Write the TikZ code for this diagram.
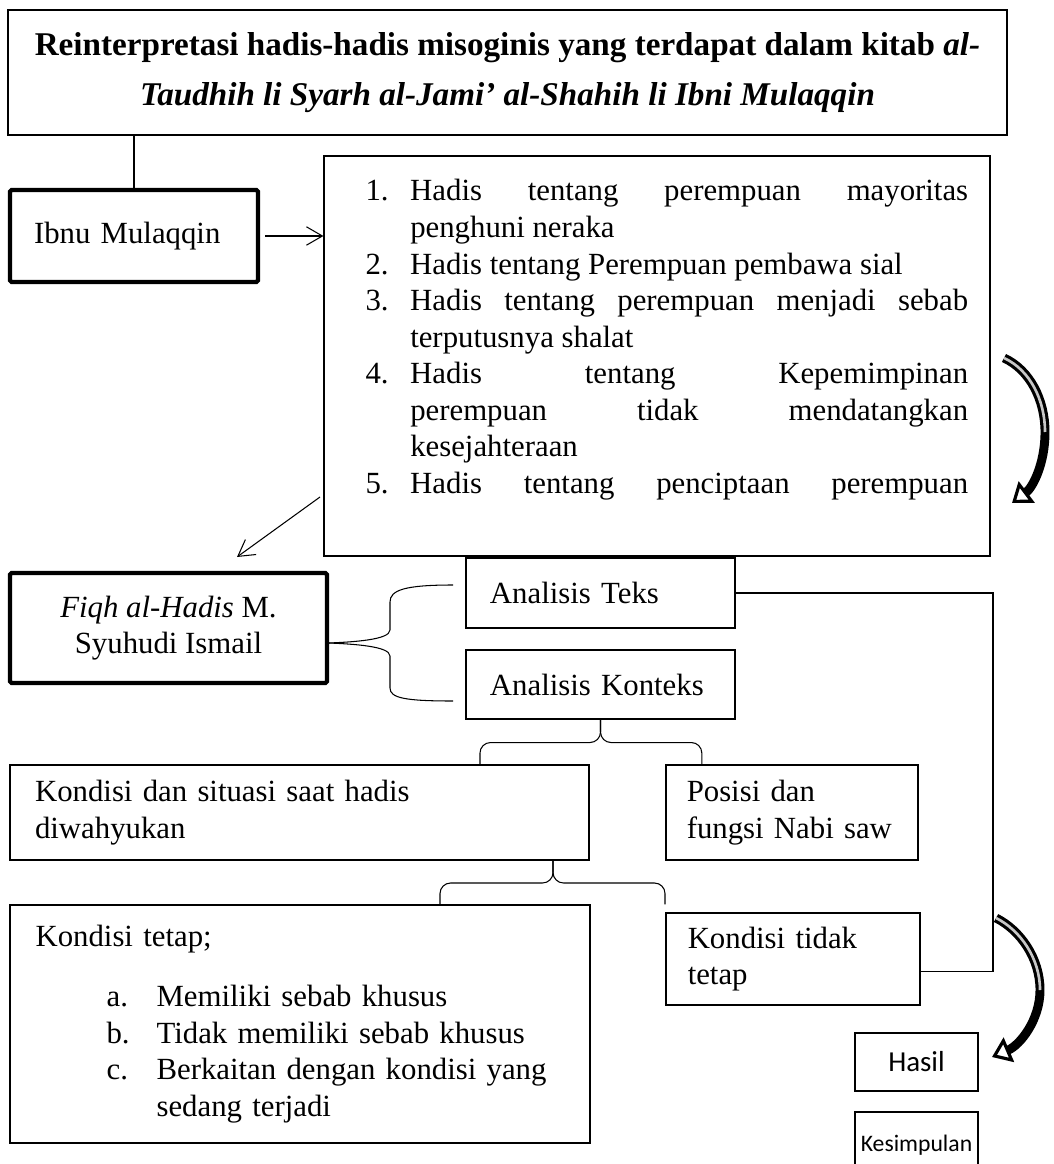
\documentclass[tikz,border=0pt]{standalone}
\usepackage{fontspec}
\setmainfont{Liberation Serif}
\newfontfamily\hasilfont{Carlito}
\usetikzlibrary{arrows.meta}
\hyphenpenalty=10000
\exhyphenpenalty=10000
\newcommand{\numlbl}[1]{\makebox[17pt][l]{#1}}
\newcommand{\fullrow}[1]{\makebox[212pt][s]{#1}}
\newcommand{\letteritem}[1]{\hspace*{27pt}\makebox[19pt][l]{#1}}

\begin{document}
\begin{tikzpicture}[x=0.38pt,y=-0.38pt,
  >={Straight Barb[angle=60:7pt]},
  box/.style={rectangle,draw,line width=0.5pt,inner sep=0pt,align=left,
              font=\fontsize{11.7}{13.9}\selectfont},
  heavy/.style={box,line width=1.6pt,rounded corners=0.6pt},
  bigarc/.style={line width=3.4pt,-{Triangle[open,length=7pt,width=10pt,line width=1.2pt]}},
  shade/.style={line width=1pt,draw=black!22}]
\useasboundingbox (0,0) rectangle (1053,1164);

\node[box,minimum width=379.6pt,minimum height=47.5pt,align=center,
  font=\fontsize{12.6}{19}\selectfont\bfseries] (title) at (507.5,72.5)
  {Reinterpretasi hadis-hadis misoginis yang terdapat dalam kitab \textit{al-}\\
   \textit{Taudhih li Syarh al-Jami’ al-Shahih li Ibni Mulaqqin}};
\node[heavy,minimum width=94.2pt,minimum height=35pt,text width=76pt] (ibnu) at (134,236)
  {Ibnu Mulaqqin\\[10pt]};
\node[box,minimum width=253pt,minimum height=152pt] (hadis) at (657,356) {};
\node[anchor=north west,inner sep=0pt,align=left,font=\fontsize{11.7}{13.9}\selectfont] (hadistext) at (365,179)
  {\numlbl{1.}\fullrow{Hadis tentang perempuan mayoritas}\\
   \numlbl{}penghuni neraka\\
   \numlbl{2.}Hadis tentang Perempuan pembawa sial\\
   \numlbl{3.}\fullrow{Hadis tentang perempuan menjadi sebab}\\
   \numlbl{}terputusnya shalat\\
   \numlbl{4.}\fullrow{Hadis tentang Kepemimpinan}\\
   \numlbl{}\fullrow{perempuan tidak mendatangkan}\\
   \numlbl{}kesejahteraan\\
   \numlbl{5.}\fullrow{Hadis tentang penciptaan perempuan}};
\node[heavy,minimum width=120.5pt,minimum height=41.8pt,align=center] (fiqh) at (168.5,628)
  {\textit{Fiqh al-Hadis} M.\\Syuhudi Ismail};
\node[box,minimum width=102.2pt,minimum height=26.6pt,text width=84pt] (teks) at (600.5,593) {Analisis Teks};
\node[box,minimum width=102.2pt,minimum height=26.2pt,text width=84pt] (konteks) at (600.5,684.5) {Analisis Konteks};
\node[box,minimum width=220pt,minimum height=36.1pt,text width=201pt] (situasi) at (299.5,812.5)
  {Kondisi dan situasi saat hadis\\diwahyukan};
\node[box,minimum width=95.8pt,minimum height=36.1pt,text width=80pt] (posisi) at (792,812.5)
  {Posisi dan\\fungsi Nabi saw};
\node[box,minimum width=220.4pt,minimum height=90.4pt,text width=201pt] (tetap) at (300,1024)
  {Kondisi tetap;\\[9pt]
   \letteritem{a.}Memiliki sebab khusus\\
   \letteritem{b.}Tidak memiliki sebab khusus\\
   \letteritem{c.}Berkaitan dengan kondisi yang\\
   \hspace*{46pt}sedang terjadi};
\node[box,minimum width=96.5pt,minimum height=35pt,text width=80pt] (tidak) at (793,959)
  {Kondisi tidak\\tetap};
\node[box,minimum width=46.7pt,minimum height=22pt,align=center,
  font=\hasilfont\fontsize{11}{13}\selectfont] (hasil) at (916.5,1062) {Hasil};
\node[box,minimum width=46.7pt,minimum height=25pt,align=center,
  font=\hasilfont\fontsize{9}{11}\selectfont] (simpul) at (916.5,1145) {Kesimpulan};

% connectors
\draw (title.south -| ibnu.north) -- (ibnu.north);
\draw[->,shorten <=2pt] (ibnu.east) -- (ibnu.east -| hadis.west);
\coordinate (dstart) at (320,497);
\coordinate (dend) at (237,557);
\draw[->] (dstart) -- (dend);

% brace fiqh
\coordinate (btip) at ([yshift=-5.7pt]fiqh.east);
\coordinate (btop) at (453,585);
\coordinate (bbot) at (453,701);
\draw (btop) .. controls (405,585) and (390,590) .. (390,602) -- (390,630)
  .. controls (390,640) and (352,642) .. (btip);
\draw (btip) .. controls (352,644) and (390,646) .. (390,656) -- (390,688)
  .. controls (390,698) and (405,701) .. (bbot);

% brace konteks
\coordinate (kmid) at ([yshift=-8.7pt]konteks.south);
\draw[rounded corners=4pt] ([xshift=-45.8pt]kmid |- situasi.north) |- (kmid) -- (konteks.south);
\draw[rounded corners=4pt] ([xshift=38.5pt]kmid |- situasi.north) |- (kmid) -- (konteks.south);

% brace situasi
\coordinate (smid) at (553,883);
\draw[rounded corners=4pt] (440,0 |- tetap.north) |- (smid) -- (situasi.south -| smid);
\draw[rounded corners=4pt] (665,0 |- tetap.north) |- (smid) -- (situasi.south -| smid);

% rail to kondisi tidak tetap
\coordinate (rail) at (993,0);
\draw (teks.east) -| ([yshift=-4.9pt]tidak.east -| rail) -- ([yshift=-4.9pt]tidak.east);

% curved block arrows
\coordinate (a1) at (1004,358);
\coordinate (a2) at (1045,432);
\coordinate (a3) at (1012,503);
\draw[bigarc] (a1) .. controls (1030,370) and (1045,400) .. (a2)
  .. controls (1045,465) and (1032,488) .. (a3);
\draw[shade] (a1) .. controls (1030,370) and (1045,400) .. (a2);
\coordinate (b1) at (996,918);
\coordinate (b2) at (1040,990);
\coordinate (b3) at (992,1057);
\draw[bigarc] (b1) .. controls (1020,930) and (1040,958) .. (b2)
  .. controls (1040,1020) and (1020,1045) .. (b3);
\draw[shade] (b1) .. controls (1020,930) and (1040,958) .. (b2);
\end{tikzpicture}
\end{document}
